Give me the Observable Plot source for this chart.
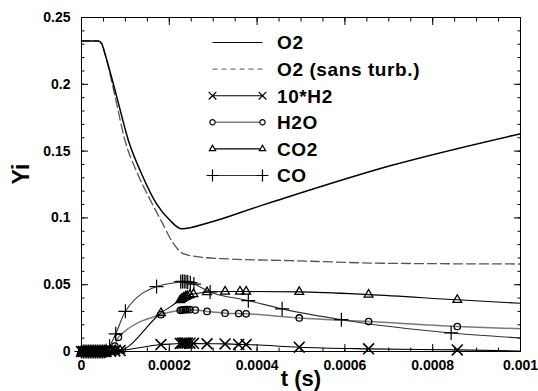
<!DOCTYPE html>
<html>
<head>
<meta charset="utf-8">
<script src="https://cdn.jsdelivr.net/npm/d3@7"></script>
<script src="https://cdn.jsdelivr.net/npm/@observablehq/plot@0.6"></script>
<style>
  html, body { margin: 0; padding: 0; background: #fff; }
  #chart { width: 538px; height: 391px; overflow: hidden; }
</style>
</head>
<body>
<div id="chart"></div>
<script>
// ---- tick values ----
const xTicks = [0, 0.0002, 0.0004, 0.0006, 0.0008, 0.001];
const xMinor = [0, 0.00005, 0.0001, 0.00015, 0.0002, 0.00025, 0.0003, 0.00035, 0.0004, 0.00045, 0.0005,
                0.00055, 0.0006, 0.00065, 0.0007, 0.00075, 0.0008, 0.00085, 0.0009, 0.00095, 0.001];
const yTicks = [0, 0.05, 0.1, 0.15, 0.2, 0.25];
const yMinor = [0, 0.01, 0.02, 0.03, 0.04, 0.05, 0.06, 0.07, 0.08, 0.09, 0.1, 0.11, 0.12, 0.13,
                0.14, 0.15, 0.16, 0.17, 0.18, 0.19, 0.2, 0.21, 0.22, 0.23, 0.24, 0.25];

// ---- O2 (with turbulence) ----
const tO2 = [0, 0.000038, 0.000046, 0.0000536, 0.00008, 0.000107, 0.000137, 0.000171, 0.000202, 0.000228,
             0.000293, 0.000407, 0.000445, 0.000703, 0.001];
const yO2 = [0.2325, 0.2325, 0.2305, 0.2227, 0.191, 0.1578, 0.1329, 0.1105, 0.098, 0.0918,
             0.0967, 0.109, 0.113, 0.139, 0.163];

// ---- O2 (sans turb.) ----
const tO2s = [0, 0.000038, 0.000046, 0.0000536, 0.000075, 0.0000992, 0.0001266, 0.0001562, 0.0001836,
              0.0002064, 0.0002201, 0.0002315, 0.0002702, 0.0003387, 0.000476, 0.0007, 0.001];
const yO2s = [0.2325, 0.2325, 0.2305, 0.2227, 0.193, 0.1578, 0.1339, 0.1137, 0.0965,
              0.0823, 0.0763, 0.0733, 0.0707, 0.0692, 0.068, 0.066, 0.0655];

// ---- early output times where all products are still zero ----
const tEarly = [0, 0.000004, 0.000008, 0.000012, 0.000016, 0.00002, 0.000024, 0.000028,
                0.000032, 0.000036, 0.00004, 0.000044, 0.000048, 0.000052];

// ---- 10*H2 ----
const tH2 = [0.000056, 0.000066, 0.000076, 0.000088, 0.000181, 0.000225, 0.000229, 0.000233, 0.000237,
             0.000241, 0.000247, 0.000255, 0.000286, 0.000327, 0.000358, 0.000375, 0.000496, 0.000654, 0.000856, 0.001];
const yH2 = [0, 0.0002, 0.0004, 0.0007, 0.0052, 0.006, 0.0062, 0.0063, 0.0063,
             0.0063, 0.0062, 0.0061, 0.0058, 0.0057, 0.0053, 0.0052, 0.0032, 0.002, 0.0012, 0.0004];

// ---- H2O ----
const tH2O = [0.000056, 0.000062, 0.000069, 0.000076, 0.000084, 0.000181, 0.000225, 0.000229, 0.000233,
              0.000237, 0.000241, 0.000247, 0.000259, 0.000286, 0.000327, 0.000358, 0.000375, 0.000496,
              0.000654, 0.000856, 0.001];
const yH2O = [0, 0.0003, 0.001, 0.004, 0.0107, 0.0276, 0.0308, 0.031, 0.0312,
              0.0313, 0.0314, 0.0313, 0.031, 0.030, 0.0287, 0.0284, 0.0282, 0.0251,
              0.0224, 0.0187, 0.017];

// ---- CO2 ----
const tCO2 = [0.000056, 0.000066, 0.000076, 0.000088, 0.000181, 0.000225, 0.000229, 0.000233, 0.000237,
              0.000241, 0.000247, 0.000255, 0.000286, 0.000327, 0.000361, 0.000375, 0.000496, 0.000654,
              0.000856, 0.001];
const yCO2 = [0, 0.0002, 0.0004, 0.0008, 0.0288, 0.0385, 0.0395, 0.0403, 0.041,
              0.0416, 0.0423, 0.043, 0.0444, 0.0449, 0.0449, 0.0449, 0.0446, 0.0426,
              0.0387, 0.0361];

// ---- CO ----
const tCO = [0.000056, 0.000064, 0.000078, 0.0001, 0.000171, 0.000226, 0.00023, 0.000234, 0.000238,
             0.000242, 0.000248, 0.000256, 0.000293, 0.00038, 0.000457, 0.000592, 0.000842, 0.001];
const yCO = [0.0005, 0.004, 0.0132, 0.0301, 0.0486, 0.0522, 0.0525, 0.0524, 0.0522,
             0.052, 0.0515, 0.0505, 0.0446, 0.0381, 0.0319, 0.0238, 0.0139, 0.0102];

// ---- legend ----
const legendLabels = ["O2", "O2 (sans turb.)", "10*H2", "H2O", "CO2", "CO"];

// ---------------------------------------------------------------
const rows = (ts, vs) => ts.map((t, i) => ({t, v: vs[i]}));
const withEarly = (ts, vs) => rows(tEarly.concat(ts), tEarly.map(() => 0).concat(vs));

const O2 = rows(tO2, yO2);
const O2s = rows(tO2s, yO2s);
const H2 = withEarly(tH2, yH2);
const H2O = withEarly(tH2O, yH2O);
const CO2 = withEarly(tCO2, yCO2);
const CO = withEarly(tCO, yCO);
const markersOf = d => d.filter(p => p.t < 0.001);

const FONT = "'Liberation Sans', Arial, Helvetica, sans-serif";
const fmt = d => String(d);

const species = [
  {data: H2,  symbol: "times",     r: 5.0, line: "#000", lw: 1.1, sw: 1.6},
  {data: H2O, symbol: "circle",    r: 3.2, line: "#7a7a7a", lw: 1.5, sw: 1.3},
  {data: CO2, symbol: "triangle2", r: 4.2, line: "#000", lw: 1.1, sw: 1.3},
  {data: CO,  symbol: "plus",      r: 4.6, line: "#333", lw: 1.1, sw: 1.2}
];

const marks = [
  // inward ticks (major & minor) on all four sides
  Plot.axisY(yTicks, {anchor: "left",  tickSize: 7,   dx: 7,    fill: "none", stroke: "#000", label: null}),
  Plot.axisY(yMinor, {anchor: "left",  tickSize: 3.5, dx: 3.5,  fill: "none", stroke: "#000", label: null}),
  Plot.axisY(yTicks, {anchor: "right", tickSize: 7,   dx: -7,   fill: "none", stroke: "#000", label: null}),
  Plot.axisY(yMinor, {anchor: "right", tickSize: 3.5, dx: -3.5, fill: "none", stroke: "#000", label: null}),
  Plot.axisX(xTicks, {anchor: "bottom", tickSize: 7,   dy: -7,   fill: "none", stroke: "#000", label: null}),
  Plot.axisX(xMinor, {anchor: "bottom", tickSize: 3.5, dy: -3.5, fill: "none", stroke: "#000", label: null}),
  Plot.axisX(xTicks, {anchor: "top",    tickSize: 7,   dy: 7,    fill: "none", stroke: "#000", label: null}),
  Plot.axisX(xMinor, {anchor: "top",    tickSize: 3.5, dy: 3.5,  fill: "none", stroke: "#000", label: null}),
  // tick labels
  Plot.axisY(yTicks, {anchor: "left", tickSize: 0, tickPadding: 11, tickFormat: fmt, fontSize: 14,
                      fontWeight: "bold", fill: "#000", label: null}),
  Plot.axisX(xTicks, {anchor: "bottom", tickSize: 0, tickPadding: 9, tickFormat: fmt, fontSize: 14,
                      fontWeight: "bold", fill: "#000", label: null}),
  // O2 curves
  Plot.line(O2s, {x: "t", y: "v", curve: "monotone-x", stroke: "#555", strokeWidth: 1.3, strokeDasharray: "9,4"}),
  Plot.line(O2,  {x: "t", y: "v", curve: "monotone-x", stroke: "#000", strokeWidth: 1.5}),
];
for (const s of species) {
  marks.push(Plot.line(s.data, {x: "t", y: "v", curve: "monotone-x", stroke: s.line, strokeWidth: s.lw}));
}
for (const s of species) {
  marks.push(Plot.dot(markersOf(s.data), {x: "t", y: "v", symbol: s.symbol, r: s.r,
                                           stroke: "#000", fill: "none", strokeWidth: s.sw}));
}
marks.push(Plot.frame({stroke: "#000", strokeWidth: 1}));
// axis titles
marks.push(Plot.text(["Yi"], {frameAnchor: "left", dx: -60, rotate: -90, fontSize: 23, fontWeight: "bold", fill: "#000"}));
marks.push(Plot.text(["t (s)"], {frameAnchor: "bottom", dy: 34, fontSize: 22, fontWeight: "bold", fill: "#000"}));

const svg = Plot.plot({
  width: 538,
  height: 391,
  marginLeft: 81,
  marginRight: 18,
  marginTop: 17,
  marginBottom: 40,
  x: {domain: [0, 0.001]},
  y: {domain: [0, 0.25]},
  style: {fontFamily: FONT, background: "#fff", color: "#000", overflow: "visible"},
  marks
});
document.getElementById("chart").appendChild(svg);

// ---- legend (inside plot, top centre) ----
const lg = d3.select(svg).append("g").attr("class", "legend").attr("text-anchor", "start");
const legendStyle = [
  {stroke: "#000", lw: 1.2, dash: null, sym: null},
  {stroke: "#777", lw: 1.3, dash: "5,4", sym: null},
  {stroke: "#000", lw: 1.1, dash: null, sym: d3.symbolTimes, size: 40},
  {stroke: "#7a7a7a", lw: 1.6, dash: null, sym: d3.symbolCircle, size: 22},
  {stroke: "#000", lw: 1.1, dash: null, sym: d3.symbolTriangle2, size: 28},
  {stroke: "#333", lw: 1.1, dash: null, sym: d3.symbolPlus, size: 48}
];
const lx0 = 212.5, lx1 = 262.5, ltx = 277, ly0 = 42.5, ldy = 26.6;
legendLabels.forEach((label, i) => {
  const y = ly0 + i * ldy;
  const st = legendStyle[i];
  lg.append("line").attr("x1", lx0).attr("x2", lx1).attr("y1", y).attr("y2", y)
    .attr("stroke", st.stroke).attr("stroke-width", st.lw)
    .attr("stroke-dasharray", st.dash);
  if (st.sym) {
    for (const x of [lx0, lx1]) {
      lg.append("path").attr("d", d3.symbol(st.sym, st.size)())
        .attr("transform", `translate(${x},${y})`)
        .attr("fill", "#fff").attr("stroke", "#000").attr("stroke-width", 1.2);
    }
  }
  lg.append("text").attr("x", ltx).attr("y", y).attr("dy", "0.36em")
    .attr("text-anchor", "start")
    .attr("font-family", FONT).attr("font-weight", "bold").attr("font-size", 19)
    .attr("letter-spacing", "0.6px")
    .attr("fill", "#000").text(label);
});
</script>
</body>
</html>
